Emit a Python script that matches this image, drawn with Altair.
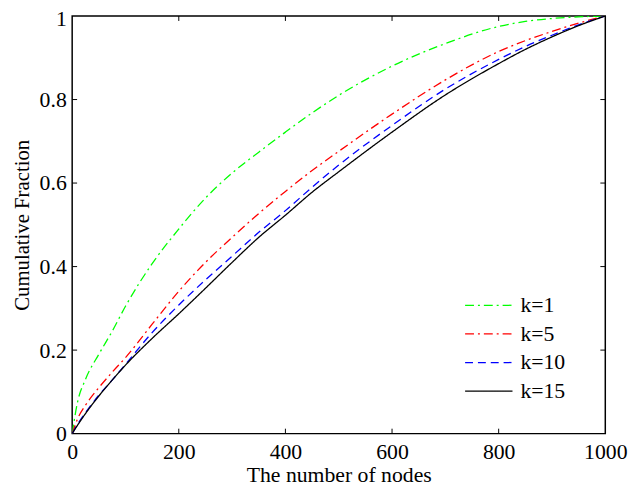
import altair as alt
import pandas as pd

# ---- data ----
nodes = [0, 10, 25, 50, 75, 100, 150, 200, 250, 300, 350, 400, 450, 500,
         600, 700, 800, 850, 900, 950, 1000]
k1 = [0, 0.075, 0.13, 0.19, 0.245, 0.305, 0.407, 0.490, 0.564, 0.624, 0.674,
      0.722, 0.768, 0.810, 0.880, 0.934, 0.975, 0.987, 0.994, 0.998, 1.0]
k5 = [0, 0.035, 0.068, 0.11, 0.147, 0.182, 0.262, 0.341, 0.410, 0.470, 0.527,
      0.580, 0.630, 0.676, 0.765, 0.847, 0.915, 0.941, 0.963, 0.983, 1.0]
k10 = [0, 0.022, 0.05, 0.092, 0.128, 0.166, 0.242, 0.308, 0.368, 0.425, 0.482,
       0.534, 0.590, 0.643, 0.738, 0.825, 0.896, 0.927, 0.954, 0.979, 1.0]
k15 = [0, 0.02, 0.048, 0.09, 0.128, 0.164, 0.228, 0.287, 0.348, 0.410, 0.470,
       0.523, 0.578, 0.627, 0.722, 0.811, 0.886, 0.920, 0.950, 0.977, 1.0]

series_names = ["k=1", "k=5", "k=10", "k=15"]
series_values = [k1, k5, k10, k15]
series_colors = ["#00ff00", "#ff0000", "#0000ff", "#000000"]
series_dashes = [[9, 4, 2, 4], [9, 4, 2, 4], [8, 5], [1, 0]]

x_ticks = [0, 200, 400, 600, 800, 1000]
y_ticks = [0, 0.2, 0.4, 0.6, 0.8, 1]

x_title = "The number of nodes"
y_title = "Cumulative Fraction"

# ---- build tables ----
rows = []
for name, vals in zip(series_names, series_values):
    for n, v in zip(nodes, vals):
        rows.append({"nodes": n, "fraction": v, "series": name})
df = pd.DataFrame(rows)

W, H = 540, 423
FONT = "Liberation Serif"
FS = 22

xscale = alt.Scale(domain=[0, 1000], nice=False, zero=False)
yscale = alt.Scale(domain=[0, 1], nice=False, zero=False)

xaxis = alt.Axis(values=x_ticks, format="d", ticks=False, domain=False, grid=False,
                 labelFont=FONT, labelFontSize=FS, labelColor="black",
                 labelPadding=8, labelFlush=False, labelOverlap=False,
                 title=x_title, titleFont=FONT, titleFontSize=FS,
                 titleFontWeight="normal", titleColor="black", titlePadding=3)
yaxis = alt.Axis(values=y_ticks, labelExpr="'' + datum.value", ticks=False,
                 domain=False, grid=False,
                 labelFont=FONT, labelFontSize=FS, labelColor="black",
                 labelPadding=6, labelFlush=False, labelOverlap=False,
                 labelOffset={"condition": {"test": "datum.value == 1", "value": 3}, "value": 0},
                 title=y_title, titleFont=FONT, titleFontSize=21,
                 titleFontWeight="normal", titleColor="black", titlePadding=7)

legend = alt.Legend(title=None, orient="none", legendX=409, legendY=280,
                    symbolType="M-2,0H2", symbolSize=576, symbolStrokeWidth=1.3,
                    labelFont=FONT, labelFontSize=FS, labelColor="black",
                    labelOffset=19, rowPadding=5, padding=0, offset=0)

lines = alt.Chart(df).mark_line(strokeWidth=1.3, clip=True, interpolate="monotone").encode(
    x=alt.X("nodes:Q", scale=xscale, axis=xaxis),
    y=alt.Y("fraction:Q", scale=yscale, axis=yaxis),
    color=alt.Color("series:N", scale=alt.Scale(domain=series_names, range=series_colors),
                    sort=series_names, legend=legend),
    strokeDash=alt.StrokeDash("series:N",
                              scale=alt.Scale(domain=series_names, range=series_dashes),
                              sort=series_names, legend=legend),
)

xt = pd.DataFrame({"nodes": x_ticks[1:-1]})
yt = pd.DataFrame({"fraction": y_ticks[1:-1]})
TL = 5
tick_bottom = alt.Chart(xt).mark_rule(color="black", strokeWidth=1).encode(
    x=alt.X("nodes:Q", scale=xscale), y=alt.value(H), y2=alt.value(H - TL))
tick_top = alt.Chart(xt).mark_rule(color="black", strokeWidth=1).encode(
    x=alt.X("nodes:Q", scale=xscale), y=alt.value(0), y2=alt.value(TL))
tick_left = alt.Chart(yt).mark_rule(color="black", strokeWidth=1).encode(
    y=alt.Y("fraction:Q", scale=yscale), x=alt.value(0), x2=alt.value(TL))
tick_right = alt.Chart(yt).mark_rule(color="black", strokeWidth=1).encode(
    y=alt.Y("fraction:Q", scale=yscale), x=alt.value(W), x2=alt.value(W - TL))

chart = alt.layer(lines, tick_bottom, tick_top, tick_left, tick_right).properties(
    width=W, height=H,
    autosize=alt.AutoSizeParams(type="none"),
    padding={"left": 65, "top": 5, "right": 23, "bottom": 55},
    background="white",
).configure_view(stroke="black", strokeWidth=1.5)

chart.save("out.html", embed_options={"renderer": "svg", "actions": False})
